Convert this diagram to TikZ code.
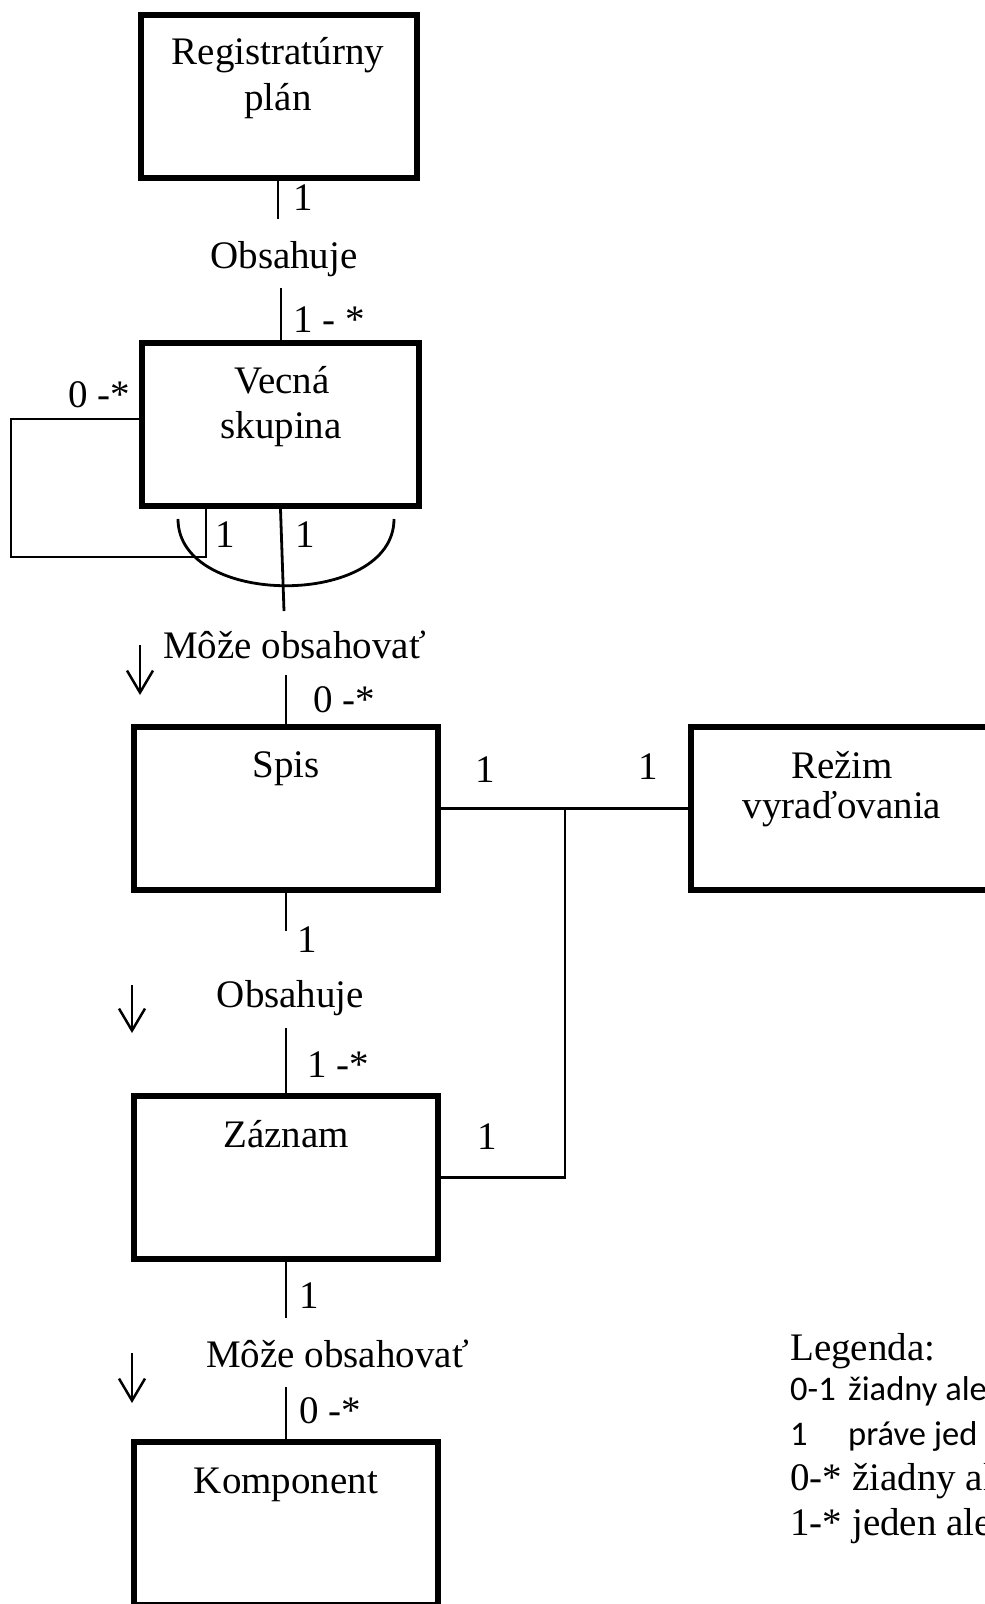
\documentclass[tikz,border=0pt]{standalone}
\usepackage{fontspec}
\setmainfont{Liberation Serif}
\newfontfamily\calib{Carlito}
\usetikzlibrary{arrows.meta}
\begin{document}
\begin{tikzpicture}[x=1pt,y=-1pt,
  font=\fontsize{39}{45}\selectfont,
  box/.style={draw,line width=6pt,inner sep=0pt,minimum width=#1,minimum height=163pt},
  box/.default=277pt,
  conn/.style={line width=2.8pt},
  txt/.style={anchor=base,inner sep=0pt},
  ltxt/.style={anchor=base west,inner sep=0pt},
  cal/.style={font=\calib\fontsize{34.5}{40}\selectfont},
  darrow/.style={line width=2.5pt,-{Straight Barb[length=22pt,width=26pt]}}]
\useasboundingbox (0,0) rectangle (985,1604);
\fill[white] (0,0) rectangle (985,1604);
\clip (0,0) rectangle (985,1604);

% boxes
\node[box=276pt] (reg) at (279,96.5) {};
\node[box=277pt] (vecna) at (280.5,424.5) {};
\node[box=304pt] (spis) at (286,808.5) {};
\node[box=300pt] (rezim) at (841,808.5) {};
\node[box=304pt] (zaznam) at (286,1177.5) {};
\node[box=304pt] (komp) at (286,1523.5) {};

% box texts
\node[txt] (regt1) at (278,64) {Registratúrny};
\node[txt] (regt2) at (278,110) {plán};
\node[txt] (vect1) at (282,393) {Vecná};
\node[txt] (vect2) at (281,438) {skupina};
\node[txt] (spist) at (286,777) {Spis};
\node[txt] (rezt1) at (842,778) {Režim};
\node[txt] (rezt2) at (842,818) {vyraďovania};
\node[txt] (zazt) at (286,1147) {Záznam};
\node[txt] (kompt) at (286,1493) {Komponent};

% relation labels
\node[txt] (obs1) at (284,268) {Obsahuje};
\node[ltxt] (moz1) at (163,658) {Môže obsahovať};
\node[txt] (obs2) at (290.5,1007) {Obsahuje};
\node[ltxt] (moz2) at (206,1367) {Môže obsahovať};

% multiplicities
\node[ltxt] (m1) at (293,210) {1};
\node[ltxt] (m2) at (293,332) {1 - *};
\node[ltxt] (m3) at (68,407) {0 -*};
\node[ltxt] (m4) at (215,547) {1};
\node[ltxt] (m5) at (295,547) {1};
\node[ltxt] (m6) at (313,712) {0 -*};
\node[ltxt] (m7) at (475,782) {1};
\node[ltxt] (m8) at (638,779) {1};
\node[ltxt] (m9) at (297,952) {1};
\node[ltxt] (m10) at (307,1077) {1 -*};
\node[ltxt] (m11) at (477,1149) {1};
\node[ltxt] (m12) at (299,1308) {1};
\node[ltxt] (m13) at (299,1423) {0 -*};

% connectors
\coordinate (c1) at (278,219);
\draw[conn] (reg.south -| c1) -- (c1);
\coordinate (c2) at (281,288);
\draw[conn] (c2) -- (c2 |- vecna.north);
\coordinate (c3) at (284,611);
\draw[conn] (vecna.south) -- (c3);
\coordinate (c4) at (286,675);
\draw[conn] (c4) -- (spis.north);
\coordinate (c5) at (286,931);
\draw[conn] (spis.south) -- (c5);
\coordinate (c6) at (286,1028);
\draw[conn] (c6) -- (zaznam.north);
\coordinate (c7) at (286,1318);
\draw[conn] (zaznam.south) -- (c7);
\coordinate (c8) at (286,1387);
\draw[conn] (c8) -- (komp.north);

\draw[conn] (spis.east) -- (rezim.west);
\coordinate (junc) at (565,808.5);
\draw[conn] (junc) |- (zaznam.east);

% self loop
\coordinate (loopA) at (vecna.west |- 0,419);
\coordinate (loopL) at (11,557);
\coordinate (loopR) at (206,557);
\draw[conn] (loopA) -| (loopL) -- (loopR) -- (loopR |- vecna.south);

% arc
\coordinate (arcL) at (178,519);
\coordinate (arcR) at (394,519);
\draw[conn] (arcL) .. controls (178,608) and (394,608) .. (arcR);

% direction arrows
\coordinate (a1s) at (140,645);
\coordinate (a1e) at (140,695);
\draw[darrow] (a1s) -- (a1e);
\coordinate (a2s) at (132,985);
\coordinate (a2e) at (132,1033);
\draw[darrow] (a2s) -- (a2e);
\coordinate (a3s) at (132,1353);
\coordinate (a3e) at (132,1403);
\draw[darrow] (a3s) -- (a3e);

% legend
\node[ltxt] (leg) at (790,1360) {Legenda:};
\node[ltxt,cal] (l1a) at (790,1400) {0-1};
\node[ltxt,cal] (l1b) at (848,1400) {žiadny ale};
\node[ltxt,cal] (l2a) at (790,1445) {1};
\node[ltxt,cal] (l2b) at (848,1445) {práve jed};
\node[ltxt] (l3a) at (790,1490) {0-*};
\node[ltxt] (l3b) at (852,1490) {žiadny al};
\node[ltxt] (l4a) at (790,1535) {1-*};
\node[ltxt] (l4b) at (852,1535) {jeden ale};
\end{tikzpicture}
\end{document}
